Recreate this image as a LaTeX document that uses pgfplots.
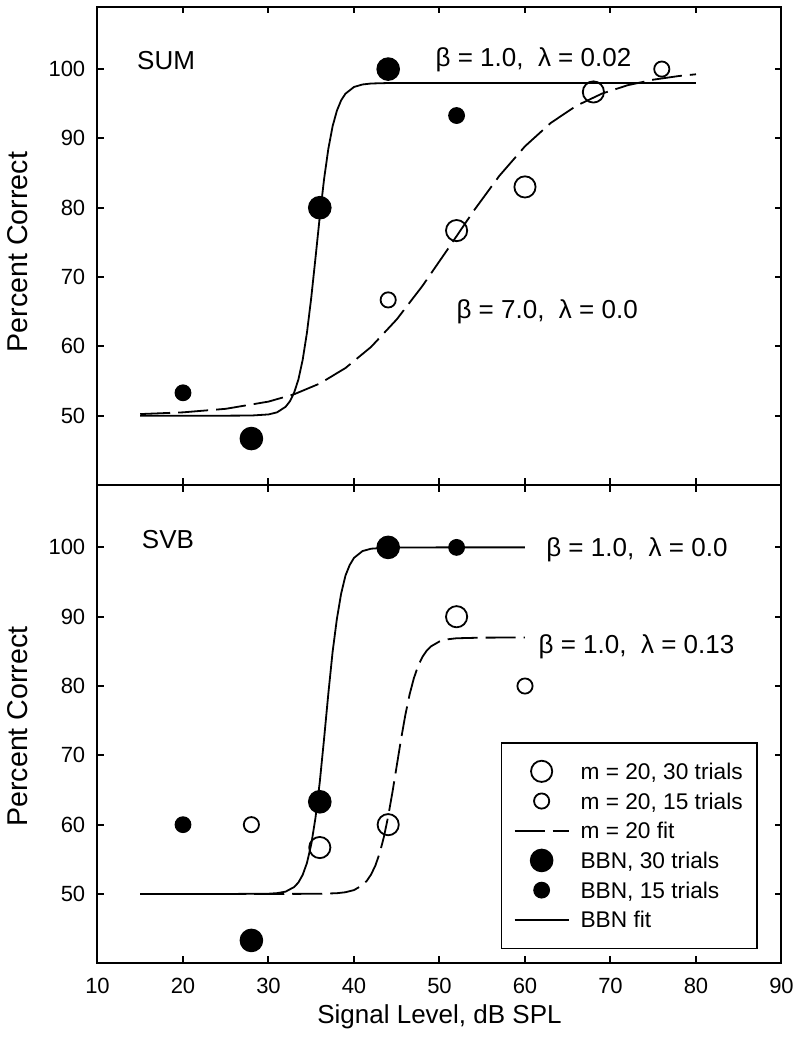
\documentclass[border=0pt]{standalone}
\usepackage{fontspec}
\setmainfont{Liberation Sans}
\usepackage{pgfplots}
\pgfplotsset{compat=1.18}

\pgfplotstableread{
x y
28 46.7
36 80.0
44 100.0
}\sumBBNthirty
\pgfplotstableread{
x y
20 53.3
52 93.3
}\sumBBNfifteen
\pgfplotstableread{
x y
52 76.7
60 83.0
68 96.7
}\sumMthirty
\pgfplotstableread{
x y
44 66.7
76 100.0
}\sumMfifteen
\pgfplotstableread{
x y
15 50.00
20 50.00
25 50.00
28 50.02
30 50.18
31 50.48
32 51.28
32.5 52.07
33 53.32
33.5 55.23
34 58.07
34.5 61.99
35 67.01
35.5 72.80
36 78.74
36.5 84.12
37 88.50
37.5 91.76
38 94.00
38.5 95.50
39 96.45
40 97.42
41 97.78
42 97.92
44 97.99
50 98.00
60 98.00
70 98.00
80 98.00
}\sumBBNfit
\pgfplotstableread{
x y
15 50.23
20 50.48
25 50.99
30 52.03
33 53.09
36 54.64
39 56.87
42 59.92
45 63.89
48 68.71
51 74.08
54 79.55
57 84.60
60 88.86
63 92.22
66 94.70
69 96.46
72 97.67
75 98.47
78 99.00
80 99.25
}\sumMfit

\pgfplotstableread{
x y
28 43.3
36 63.3
44 100.0
}\svbBBNthirty
\pgfplotstableread{
x y
20 60.0
52 100.0
}\svbBBNfifteen
\pgfplotstableread{
x y
36 56.7
44 60.0
52 90.0
}\svbMthirty
\pgfplotstableread{
x y
28 60.0
60 80.0
}\svbMfifteen
\pgfplotstableread{
x y
15 50.00
25 50.00
30 50.04
31 50.12
32 50.34
33 51.00
33.5 51.66
34 52.76
34.5 54.49
35 57.15
35.5 61.02
36 66.18
36.5 72.38
37 78.92
37.5 84.94
38 89.69
38.5 93.35
39 95.92
39.5 97.46
40 98.49
41 99.47
42 99.81
44 99.98
50 100.00
60 100.00
}\svbBBNfit
\pgfplotstableread{
x y
15 50.00
30 50.00
36 50.03
38 50.11
39 50.25
40 50.56
41 51.28
41.5 51.90
42 52.81
42.5 54.10
43 55.87
43.5 58.24
44 61.21
44.5 64.70
45 68.50
45.5 72.30
46 75.79
46.5 78.76
47 81.12
47.5 82.90
48 84.19
48.5 85.10
49 85.72
50 86.43
51 86.75
52 86.89
55 86.98
60 87.00
}\svbMfit

\tikzset{annot/.style={anchor=west, inner sep=0pt, font=\fontsize{13}{15}\selectfont}}

\pgfplotsset{
  panel/.style={
    width=342pt, height=239.15pt, scale only axis,
    xmin=10, xmax=90, ymin=40, ymax=109,
    xtick={10,20,...,90}, ytick={50,60,...,100},
    tick align=inside, tick pos=both,
    major tick length=3.4pt,
    every tick/.style={black, line width=1pt},
    axis line style={line width=1pt},
    tick label style={font=\fontsize{11}{13}\selectfont},
    /pgf/number format/assume math mode=true,
    yticklabel style={xshift=-2.6pt},
    xticklabel style={yshift=-4pt},
    ylabel={Percent Correct},
    clip=false,
    legend image code/.code={\draw[mark repeat=2,mark phase=2,#1] plot coordinates {(0cm,0cm) (0.475cm,0cm) (0.95cm,0cm)};},
  },
  fitdash/.style={black, line width=0.9pt, dash pattern=on 15pt off 4pt, no marks},
  fitsolid/.style={black, line width=0.9pt, no marks},
  openL/.style={only marks, mark=o, mark size=5.3pt, mark options={line width=0.9pt, draw=black}},
  openS/.style={only marks, mark=o, mark size=3.8pt, mark options={line width=0.9pt, draw=black}},
  fillL/.style={only marks, mark=*, mark size=5.6pt, mark options={line width=0.6pt, draw=black, fill=black}},
  fillS/.style={only marks, mark=*, mark size=3.9pt, mark options={line width=0.6pt, draw=black, fill=black}},
}

\begin{document}
\begin{tikzpicture}
\useasboundingbox (-48.75pt,-43.35pt) rectangle (350.25pt,481.65pt);

% ---------- top panel (SUM) ----------
\begin{axis}[panel, at={(0pt,239.15pt)}, anchor=south west, xticklabel=\empty,
  ylabel style={at={(axis description cs:-0.1162,0.487)}, anchor=center, font=\fontsize{14.3}{16}\selectfont}]
\addplot[fitsolid] table {\sumBBNfit};
\addplot[fitdash] table {\sumMfit};
\addplot[openL] table {\sumMthirty};
\addplot[openS] table {\sumMfifteen};
\addplot[fillL] table {\sumBBNthirty};
\addplot[fillS] table {\sumBBNfifteen};
\node[annot] at (axis cs:14.6,101.3) {SUM};
\node[annot] at (axis cs:49.5,101.3) {β = 1.0,\ \ λ = 0.02};
\node[annot] at (axis cs:51.95,65.0) {β = 7.0,\ \ λ = 0.0};
\end{axis}

% ---------- bottom panel (SVB) ----------
\begin{axis}[panel, at={(0pt,0pt)}, anchor=south west,
  ylabel style={at={(axis description cs:-0.1162,0.495)}, anchor=center, font=\fontsize{14.3}{16}\selectfont},
  xlabel={Signal Level, dB SPL},
  xlabel style={at={(axis description cs:0.5,0)}, anchor=center, yshift=-26.7pt, font=\fontsize{13}{15}\selectfont},
  legend style={at={(0.5895,0.4623)}, anchor=north west, draw=black, line width=0.7pt, fill=white,
    inner xsep=6.15pt, inner ysep=6.8pt, column sep=4.5pt,
    font=\fontsize{11.35}{13}\selectfont,
    nodes={inner xsep=1pt, inner ysep=1pt, text height=10.5pt, text depth=2.35pt},
    cells={anchor=west}},
]
\addplot[openL] table {\svbMthirty};
\addlegendentry{m = 20, 30 trials}
\addplot[openS] table {\svbMfifteen};
\addlegendentry{m = 20, 15 trials}
\addplot[fitdash] table {\svbMfit};
\addlegendentry{m = 20 fit}
\addplot[fillL] table {\svbBBNthirty};
\addlegendentry{BBN, 30 trials}
\addplot[fillS] table {\svbBBNfifteen};
\addlegendentry{BBN, 15 trials}
\addplot[fitsolid] table {\svbBBNfit};
\addlegendentry{BBN fit}
\node[annot] at (axis cs:15.15,101.1) {SVB};
\node[annot] at (axis cs:62.45,99.6) {β = 1.0,\ \ λ = 0.0};
\node[annot] at (axis cs:61.55,85.7) {β = 1.0,\ \ λ = 0.13};
\end{axis}
\end{tikzpicture}
\end{document}
